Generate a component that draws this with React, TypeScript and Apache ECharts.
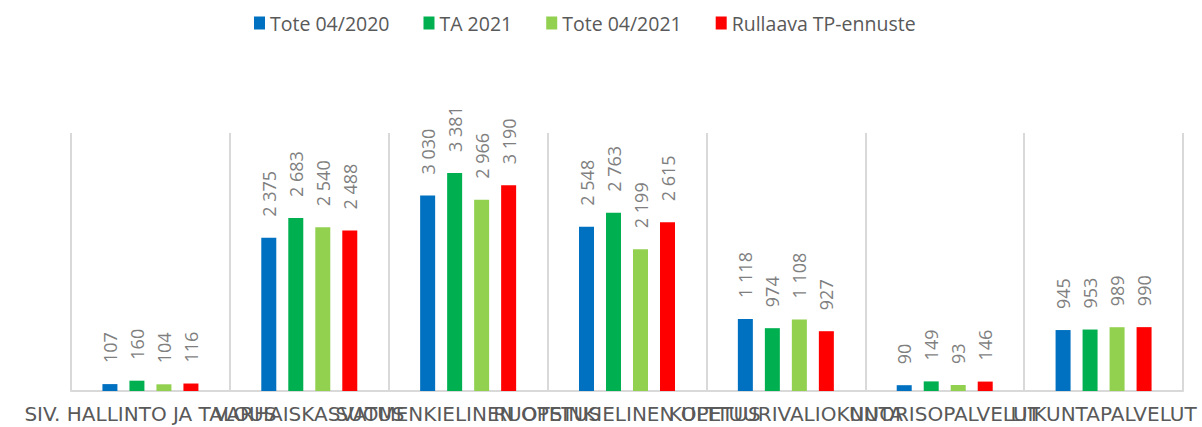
import React, { useEffect, useRef } from "react";
import * as echarts from "echarts";

const categories = [
  "SIV. HALLINTO JA TALOUS",
  "VARHAISKASVATUS",
  "SUOMENKIELINEN OPETUS",
  "RUOTSINKIELINEN OPETUS",
  "KULTTUURIVALIOKUNTA",
  "NUORISOPALVELUT",
  "LIIKUNTAPALVELUT",
];
const seriesNames = ["Tote 04/2020", "TA 2021", "Tote 04/2021", "Rullaava TP-ennuste"];
const tote2020 = [107, 2375, 3030, 2548, 1118, 90, 945];
const ta2021 = [160, 2683, 3381, 2763, 974, 149, 953];
const tote2021 = [104, 2540, 2966, 2199, 1108, 93, 989];
const ennuste = [116, 2488, 3190, 2615, 927, 146, 990];
const colors = ["#0070C0", "#00B050", "#92D050", "#FF0000"];

const fmt = (v: number) => {
  const s = String(Math.round(v));
  return s.replace(/\B(?=(\d{3})+(?!\d))/g, " ");
};

export default function App() {
  const ref = useRef<HTMLDivElement>(null);
  useEffect(() => {
    if (!ref.current) return;
    const chart = echarts.init(ref.current, null, { renderer: "svg" });
    const data = [tote2020, ta2021, tote2021, ennuste];
    chart.setOption({
      animation: false,
      textStyle: { fontFamily: "Open Sans" },
      legend: {
        data: seriesNames,
        left: 249,
        top: 8,
        itemWidth: 11,
        itemHeight: 13,
        itemGap: 34,
        icon: "rect",
        textStyle: { color: "#595959", fontSize: 19.5, fontFamily: "Open Sans" },
      },
      grid: { left: 71, right: 19, top: 133, bottom: 36 },
      xAxis: {
        type: "category",
        data: categories,
        axisLine: { show: true, lineStyle: { color: "#D9D9D9", width: 2 } },
        axisTick: { show: false },
        splitLine: { show: true, interval: 0, lineStyle: { color: "#D9D9D9", width: 2 } },
        axisLabel: {
          interval: 0,
          color: "#595959",
          fontSize: 20,
          fontFamily: "DejaVu Sans",
          margin: 13,
          hideOverlap: false,
        },
      },
      yAxis: {
        type: "value",
        min: 0,
        max: 4000,
        show: false,
        splitLine: { show: false },
      },
      series: data.map((d, i) => ({
        name: seriesNames[i],
        type: "bar",
        data: d,
        barWidth: 15,
        barGap: "80%",
        itemStyle: { color: colors[i] },
        label: {
          show: true,
          position: "top",
          rotate: 90,
          align: "left",
          verticalAlign: "middle",
          distance: 21,
          color: "#7F7F7F",
          fontSize: 18,
          fontFamily: "Open Sans",
          formatter: (p: any) => fmt(p.value),
        },
      })),
    });
    return () => chart.dispose();
  }, []);
  return (
    <div
      ref={ref}
      style={{ position: "absolute", left: 0, top: 0, width: 1202, height: 427, background: "#fff" }}
    />
  );
}
